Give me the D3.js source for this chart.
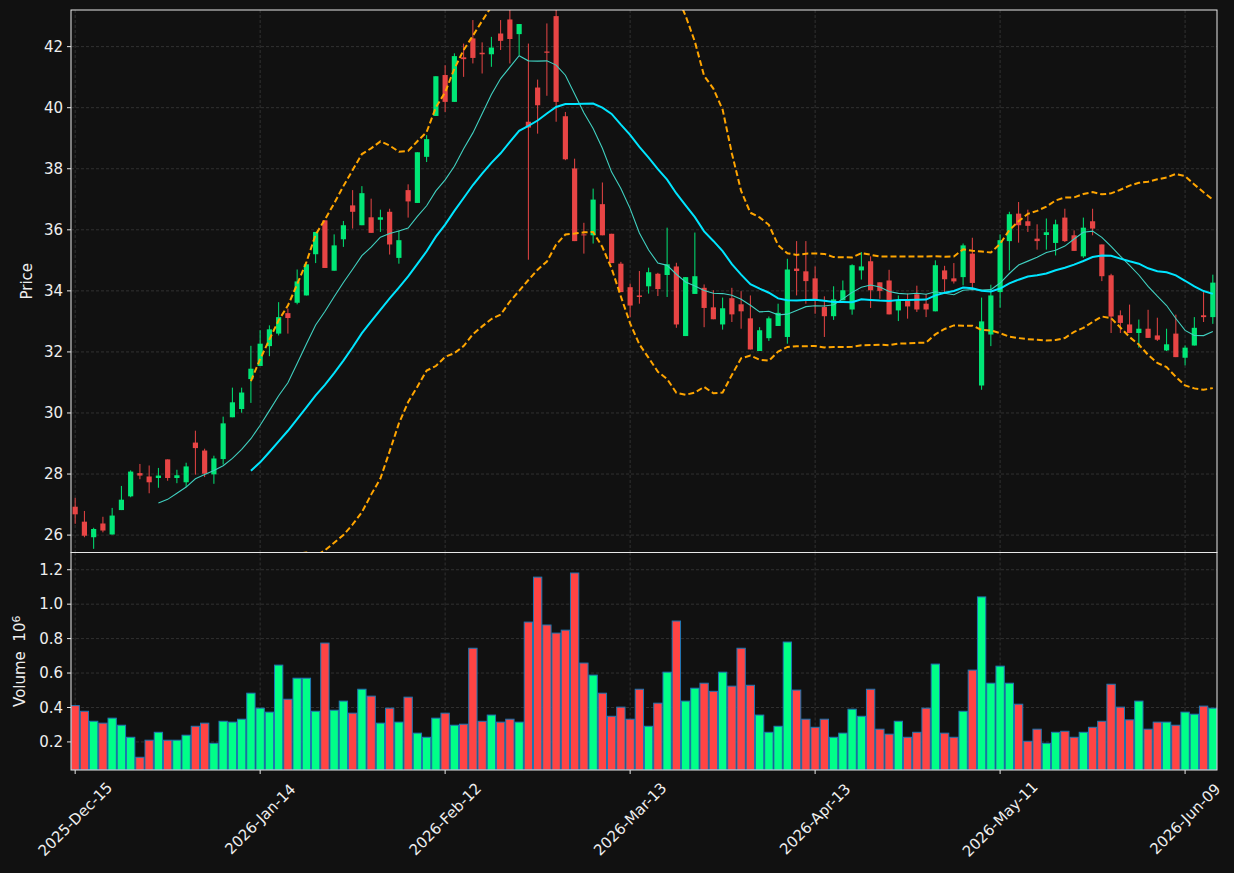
<!DOCTYPE html>
<html>
<head>
<meta charset="utf-8">
<script src="https://cdn.jsdelivr.net/npm/d3@7"></script>
<style>
  html, body { margin: 0; padding: 0; background: #111111; }
  svg { display: block; }
</style>
</head>
<body>
<div id="chart"></div>
<script>
// ohlc, one entry per trading bar (index based x)
const opens = [26.93,26.44,25.93,26.38,26.02,26.82,27.27,28.03,27.92,27.87,28.48,27.87,27.73,29.03,28.77,27.99,28.49,29.86,30.13,31.11,
  31.54,32.19,32.60,33.27,33.61,33.85,35.20,36.31,34.66,35.69,36.80,36.15,36.41,36.33,36.59,35.08,37.30,36.88,38.39,39.73,
  41.07,40.19,41.65,42.27,41.80,41.75,42.43,42.89,42.41,39.54,40.66,41.84,43.00,39.72,38.01,35.85,35.82,36.84,35.87,34.89,
  34.12,33.85,34.15,34.56,34.52,34.80,32.52,33.90,34.10,33.46,32.90,33.76,33.56,33.10,32.03,32.45,32.85,32.49,34.73,34.64,
  34.41,33.47,33.17,33.69,33.39,34.67,34.97,34.28,34.34,33.36,33.69,33.89,33.58,33.33,34.67,34.41,34.45,35.22,30.90,32.57,
  33.96,35.63,36.53,36.28,35.71,35.83,35.57,36.40,35.82,35.13,36.28,35.52,34.51,33.20,32.90,32.62,32.76,32.54,32.05,32.60,
  31.81,32.21,33.20,33.14];
const highs = [27.22,26.79,26.24,26.60,26.89,27.61,28.12,28.33,28.28,28.20,28.48,28.14,28.37,29.42,28.83,28.60,29.88,30.83,30.83,32.20,
  32.71,32.87,33.63,33.42,34.70,34.87,35.93,36.31,35.85,36.29,37.30,37.43,37.02,36.66,36.69,35.98,37.49,38.54,39.10,41.03,
  41.39,41.78,42.10,42.87,42.14,42.32,42.87,43.30,42.74,42.10,40.92,42.76,43.30,39.86,38.33,36.23,37.35,37.55,35.87,34.95,
  34.24,34.65,34.76,34.59,36.07,34.92,34.45,35.91,34.21,34.02,33.78,34.10,33.99,33.85,32.81,33.16,33.58,35.05,35.63,35.63,
  34.80,33.82,34.15,34.34,34.87,35.27,35.13,34.28,34.69,33.85,33.91,34.17,33.89,35.00,34.82,34.91,35.55,35.74,33.78,34.20,
  35.85,36.59,36.91,36.66,36.18,36.37,36.33,36.69,35.98,36.40,36.69,35.52,34.56,33.36,33.55,33.06,33.38,33.12,32.76,33.22,
  32.21,33.14,33.96,34.53];
const lows = [26.37,25.93,25.55,26.09,26.02,26.82,27.24,27.83,27.37,27.55,27.78,27.70,27.57,27.98,27.90,27.68,28.31,29.86,30.01,30.33,
  31.54,31.86,32.54,32.60,33.56,33.85,34.91,34.75,34.66,35.44,36.04,36.15,35.90,35.93,35.19,34.89,36.40,36.88,38.22,39.73,
  39.86,40.19,41.01,41.45,41.12,41.34,41.89,41.45,41.72,35.02,39.15,40.39,39.54,38.28,35.63,35.22,35.55,35.82,34.91,33.96,
  33.14,33.58,33.91,33.83,33.80,32.79,32.52,33.90,32.81,33.07,32.73,32.98,32.76,32.08,32.03,32.36,32.85,32.27,33.85,33.58,
  33.25,32.49,33.05,33.69,33.22,34.37,33.44,33.74,33.23,33.01,33.09,33.31,33.14,33.33,33.96,34.24,34.18,34.02,30.76,32.19,
  33.45,34.67,35.58,35.93,35.35,35.35,35.16,35.60,35.31,35.08,35.82,34.32,32.62,32.62,32.62,32.14,32.46,32.36,32.03,31.83,
  31.56,32.21,32.98,32.92];
const closes = [26.68,25.98,26.20,26.15,26.64,27.16,28.08,27.95,27.73,27.95,27.87,27.96,28.25,28.85,28.01,28.51,29.66,30.35,30.67,31.45,
  32.27,32.74,33.14,33.11,34.31,34.87,35.93,34.75,35.49,36.15,36.59,37.20,35.90,36.41,35.52,35.66,36.93,38.54,38.97,41.03,
  40.19,41.69,41.59,41.63,41.75,41.97,42.19,42.25,42.74,39.35,40.08,41.80,40.19,38.31,35.63,35.82,36.99,35.82,34.91,33.96,
  33.52,33.80,34.61,34.06,34.87,32.90,34.45,34.48,33.44,33.07,33.43,33.23,33.33,32.08,32.71,33.10,33.28,34.70,34.65,34.32,
  33.70,33.17,33.72,34.02,34.84,34.80,34.02,34.00,33.23,33.69,33.49,33.39,33.39,34.84,34.38,34.31,35.49,34.26,33.00,33.85,
  35.66,36.51,36.15,36.13,35.63,35.92,36.18,35.63,35.31,36.07,36.04,34.48,33.16,32.95,32.62,32.76,32.46,32.40,32.25,31.83,
  32.14,32.79,33.14,34.27];
// volume in millions
const volumes = [0.411,0.378,0.320,0.309,0.338,0.297,0.227,0.111,0.210,0.256,0.210,0.210,0.239,0.291,0.309,0.192,0.320,0.315,0.332,0.483,
  0.396,0.373,0.646,0.448,0.570,0.570,0.378,0.774,0.384,0.437,0.367,0.506,0.466,0.309,0.396,0.315,0.460,0.251,0.227,0.338,
  0.367,0.297,0.303,0.744,0.320,0.356,0.315,0.332,0.315,0.896,1.157,0.879,0.832,0.849,1.181,0.658,0.588,0.483,0.349,0.402,
  0.332,0.506,0.291,0.425,0.605,0.902,0.437,0.512,0.541,0.494,0.605,0.524,0.744,0.529,0.356,0.256,0.291,0.780,0.501,0.332,
  0.285,0.332,0.227,0.251,0.390,0.349,0.506,0.274,0.245,0.320,0.227,0.256,0.396,0.652,0.251,0.227,0.378,0.617,1.042,0.541,
  0.640,0.541,0.419,0.204,0.274,0.192,0.256,0.262,0.227,0.256,0.285,0.320,0.535,0.402,0.328,0.437,0.274,0.315,0.315,0.297,
  0.373,0.361,0.408,0.396];

const tickIdx = [0, 20, 40, 60, 80, 100, 120];
const tickLabels = ["2025-Dec-15","2026-Jan-14","2026-Feb-12","2026-Mar-13","2026-Apr-13","2026-May-11","2026-Jun-09"];
const priceTicks = [26, 28, 30, 32, 34, 36, 38, 40, 42];
const volTicks = [0.2, 0.4, 0.6, 0.8, 1.0, 1.2];

const W = 1234, H = 873;
const L = 71, R = 1217, mainTop = 10, mainBot = 552.5, volTop = 552.5, volBot = 770;
const txt = "#eeeeee", gridC = "#3a3a3a", spineC = "#e8e8e8";
const upC = "#00e676", downC = "#e84545", upV = "#00ff88", downV = "#ff4444";

const n = closes.length;
const idx = d3.range(n);

// rolling stats from closes
function rolling(w, fn) {
  return idx.map(i => i < w - 1 ? null : fn(closes.slice(i - w + 1, i + 1)));
}
const ma10 = rolling(10, a => d3.mean(a));
const ma20 = rolling(20, a => d3.mean(a));
// population std
const sd20 = rolling(20, a => { const m = d3.mean(a); return Math.sqrt(d3.mean(a, v => (v - m) * (v - m))); });
const bbUp = idx.map(i => ma20[i] == null ? null : ma20[i] + 2 * sd20[i]);
const bbLo = idx.map(i => ma20[i] == null ? null : ma20[i] - 2 * sd20[i]);

const x = d3.scaleLinear().domain([-0.45, n - 0.55]).range([L, R]);
const y = d3.scaleLinear().domain([25.43, 43.2]).range([mainBot, mainTop]);
const yv = d3.scaleLinear().domain([0.037, 1.3]).range([volBot, volTop]);
const step = x(1) - x(0);

const svg = d3.select("#chart").append("svg")
  .attr("width", W).attr("height", H)
  .style("background", "#111111")
  .style("font-family", "'DejaVu Sans', sans-serif");

const defs = svg.append("defs");
defs.append("clipPath").attr("id", "clipMain").append("rect")
  .attr("x", L).attr("y", mainTop).attr("width", R - L).attr("height", mainBot - mainTop);
defs.append("clipPath").attr("id", "clipVol").append("rect")
  .attr("x", L).attr("y", volTop).attr("width", R - L).attr("height", volBot - volTop);

// grid
const grid = svg.append("g").attr("stroke", gridC).attr("stroke-width", 0.8).attr("stroke-dasharray", "3,2");
tickIdx.forEach(t => {
  grid.append("line").attr("x1", x(t)).attr("x2", x(t)).attr("y1", mainTop).attr("y2", mainBot);
  grid.append("line").attr("x1", x(t)).attr("x2", x(t)).attr("y1", volTop).attr("y2", volBot);
});
priceTicks.forEach(t => grid.append("line").attr("x1", L).attr("x2", R).attr("y1", y(t)).attr("y2", y(t)));
volTicks.forEach(t => grid.append("line").attr("x1", L).attr("x2", R).attr("y1", yv(t)).attr("y2", yv(t)));

// candles
const main = svg.append("g").attr("clip-path", "url(#clipMain)");
const candles = main.selectAll("g.c").data(idx).enter().append("g");
candles.append("line")
  .attr("x1", i => x(i)).attr("x2", i => x(i))
  .attr("y1", i => y(highs[i])).attr("y2", i => y(lows[i]))
  .attr("stroke", i => closes[i] >= opens[i] ? upC : downC).attr("stroke-width", 1);
candles.append("rect")
  .attr("x", i => x(i) - step * 0.28).attr("width", step * 0.56)
  .attr("y", i => y(Math.max(opens[i], closes[i])))
  .attr("height", i => Math.max(1, Math.abs(y(opens[i]) - y(closes[i]))))
  .attr("fill", i => closes[i] >= opens[i] ? upC : downC);

// overlays
const line = d3.line().defined(d => d[1] != null).x(d => x(d[0])).y(d => y(d[1]));
const pts = arr => arr.map((v, i) => [i, v]);
main.append("path").attr("d", line(pts(bbUp))).attr("fill", "none")
  .attr("stroke", "#ffa500").attr("stroke-width", 2).attr("stroke-dasharray", "6,3");
main.append("path").attr("d", line(pts(bbLo))).attr("fill", "none")
  .attr("stroke", "#ffa500").attr("stroke-width", 2).attr("stroke-dasharray", "6,3");
main.append("path").attr("d", line(pts(ma10))).attr("fill", "none")
  .attr("stroke", "#40d0c0").attr("stroke-width", 1.1);
main.append("path").attr("d", line(pts(ma20))).attr("fill", "none")
  .attr("stroke", "#00e5ff").attr("stroke-width", 2);

// volume
const vol = svg.append("g").attr("clip-path", "url(#clipVol)");
vol.selectAll("rect").data(idx).enter().append("rect")
  .attr("x", i => x(i) - step * 0.45).attr("width", step * 0.9)
  .attr("y", i => yv(volumes[i])).attr("height", i => volBot - yv(volumes[i]))
  .attr("fill", i => closes[i] >= opens[i] ? upV : downV)
  .attr("stroke", "#1f77b4").attr("stroke-width", 1);

// spines
const sp = svg.append("g").attr("fill", "none").attr("stroke", spineC).attr("stroke-width", 1);
sp.append("rect").attr("x", L).attr("y", mainTop).attr("width", R - L).attr("height", mainBot - mainTop);
sp.append("rect").attr("x", L).attr("y", volTop).attr("width", R - L).attr("height", volBot - volTop);

// y axes
const ax = svg.append("g").attr("fill", txt).attr("font-size", 15);
priceTicks.forEach(t => {
  ax.append("line").attr("x1", L - 4).attr("x2", L).attr("y1", y(t)).attr("y2", y(t)).attr("stroke", spineC);
  ax.append("text").attr("x", L - 8).attr("y", y(t)).attr("dy", "0.35em").attr("text-anchor", "end").text(t);
});
volTicks.forEach(t => {
  ax.append("line").attr("x1", L - 4).attr("x2", L).attr("y1", yv(t)).attr("y2", yv(t)).attr("stroke", spineC);
  ax.append("text").attr("x", L - 8).attr("y", yv(t)).attr("dy", "0.35em").attr("text-anchor", "end").text(t.toFixed(1));
});
tickIdx.forEach((t, k) => {
  ax.append("line").attr("x1", x(t)).attr("x2", x(t)).attr("y1", volBot).attr("y2", volBot + 4).attr("stroke", spineC);
  ax.append("text").attr("transform", `translate(${x(t)},${819}) rotate(-45)`)
    .attr("text-anchor", "middle").attr("dy", "0.35em").text(tickLabels[k]);
});

ax.append("text").attr("transform", `translate(32,${(mainTop + mainBot) / 2}) rotate(-90)`)
  .attr("text-anchor", "middle").text("Price");
const vl = ax.append("text").attr("transform", `translate(25,${(volTop + volBot) / 2}) rotate(-90)`)
  .attr("text-anchor", "middle");
vl.append("tspan").text("Volume\u00a0\u00a010");
vl.append("tspan").attr("dy", "-0.45em").attr("font-size", 11).text("6");
</script>
</body>
</html>
